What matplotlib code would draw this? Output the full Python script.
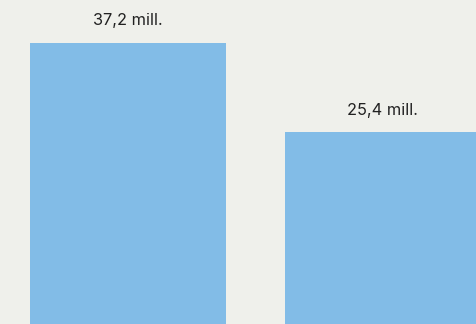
import matplotlib
matplotlib.use("Agg")
import matplotlib.pyplot as plt

categories = ["A", "B"]
values = [37.2, 25.4]
labels = ["37,2 mill.", "25,4 mill."]

bg = "#eff0eb"
bar_color = "#82bce7"

fig = plt.figure(figsize=(4.77, 3.24), dpi=100, facecolor=bg)
ax = fig.add_axes([0, 0, 1, 1], facecolor=bg)

x = range(len(categories))
bars = ax.bar(x, values, width=0.77, color=bar_color)

for b, lab in zip(bars, labels):
    ax.annotate(lab, (b.get_x() + b.get_width() / 2, b.get_height()),
                xytext=(0, 10.5), textcoords="offset points",
                ha="center", va="bottom", fontsize=11.8,
                family=["Inter", "DejaVu Sans"], color="#222222")

ax.set_xlim(-0.502, 1.369)
ax.set_ylim(0, 42.9)
ax.axis("off")

fig.savefig("out.png", dpi=100, facecolor=bg)
